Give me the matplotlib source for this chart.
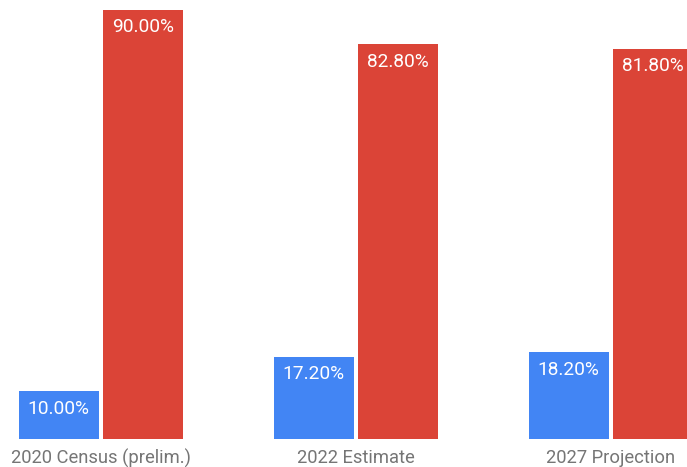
import matplotlib
matplotlib.use("Agg")
import matplotlib.pyplot as plt
import numpy as np

categories = ["2020 Census (prelim.)", "2022 Estimate", "2027 Projection"]
series_a = [10.0, 17.2, 18.2]
series_b = [90.0, 82.8, 81.8]
colors = ["#4285F4", "#DB4437"]

plt.rcParams['font.family'] = ['Roboto', 'DejaVu Sans']

fig = plt.figure(figsize=(6.87, 4.67), dpi=100)
ax = fig.add_axes([0, 28/467, 1, 1 - 28/467])

x = np.arange(len(categories))
w = 80/255
gap = 4.5/255
ba = ax.bar(x - (w/2 + gap/2), series_a, width=w, color=colors[0])
bb = ax.bar(x + (w/2 + gap/2), series_b, width=w, color=colors[1])

for bars, vals in ((ba, series_a), (bb, series_b)):
    for r, v in zip(bars, vals):
        ax.annotate(f"{v:.2f}%", (r.get_x() + r.get_width()/2, r.get_height()),
                    xytext=(0, -6.0), textcoords="offset points",
                    ha="center", va="top", color="white", fontsize=13.8)

ax.set_xlim(-101/255, (687-101)/255)
ax.set_ylim(0, (467-28)/(429/90))
ax.set_xticks(x)
ax.set_xticklabels(categories, fontsize=13.2, color="#757575")
ax.tick_params(axis="x", length=0, pad=7)
ax.set_yticks([])
for s in ax.spines.values():
    s.set_visible(False)

fig.savefig("out.png", dpi=100)
